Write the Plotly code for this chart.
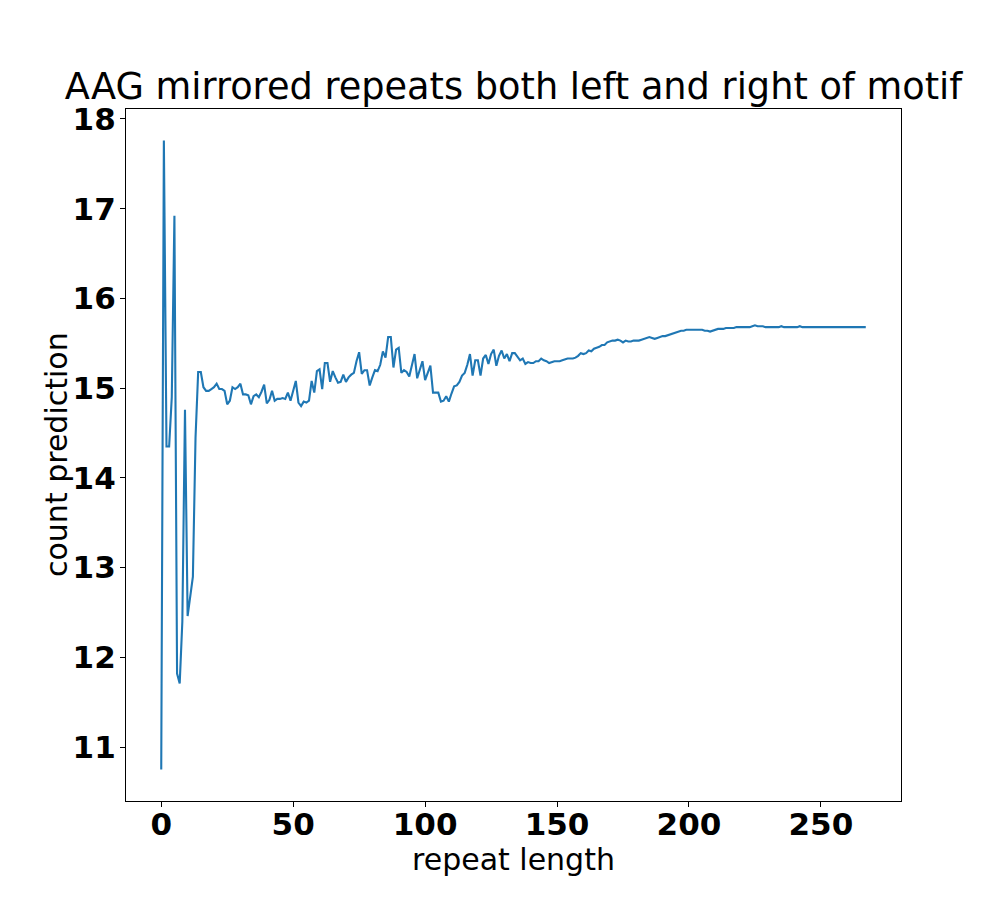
import plotly.graph_objects as go

# repeat length (x) and count prediction (y)
repeat_length = list(range(268))
count_prediction = [
    10.75, 17.76, 14.35, 14.35, 14.90, 16.92, 11.82, 11.71, 12.40, 14.76,
    12.46, 12.70, 12.90, 14.45, 15.18, 15.18, 15.01, 14.97, 14.97, 14.99,
    15.01, 15.05, 14.99, 14.99, 14.97, 14.82, 14.86, 15.01, 14.99, 15.01,
    15.05, 14.93, 14.93, 14.92, 14.82, 14.91, 14.93, 14.90, 14.96, 15.04,
    14.83, 14.87, 14.97, 14.86, 14.88, 14.88, 14.89, 14.88, 14.95, 14.86,
    14.96, 15.08, 14.84, 14.80, 14.85, 14.84, 14.86, 15.08, 14.95, 15.19,
    15.21, 14.99, 15.28, 15.28, 15.07, 15.19, 15.12, 15.06, 15.07, 15.15,
    15.07, 15.12, 15.15, 15.17, 15.30, 15.40, 15.16, 15.20, 15.20, 15.03,
    15.12, 15.20, 15.19, 15.26, 15.41, 15.34, 15.57, 15.57, 15.23, 15.43,
    15.45, 15.17, 15.20, 15.18, 15.13, 15.24, 15.38, 15.11, 15.22, 15.30,
    15.09, 15.18, 15.25, 14.95, 14.95, 14.95, 14.85, 14.86, 14.91, 14.85,
    14.94, 15.02, 15.03, 15.07, 15.14, 15.17, 15.26, 15.38, 15.14, 15.31,
    15.31, 15.14, 15.33, 15.37, 15.27, 15.38, 15.43, 15.25, 15.36, 15.42,
    15.33, 15.38, 15.30, 15.39, 15.39, 15.35, 15.31, 15.33, 15.27, 15.29,
    15.28, 15.28, 15.30, 15.30, 15.33, 15.31, 15.30, 15.28, 15.29, 15.30,
    15.30, 15.30, 15.31, 15.32, 15.33, 15.33, 15.33, 15.34, 15.36, 15.39,
    15.38, 15.39, 15.42, 15.41, 15.44, 15.45, 15.46, 15.48, 15.48, 15.51,
    15.52, 15.53, 15.53, 15.54, 15.53, 15.51, 15.53, 15.52, 15.52, 15.53,
    15.53, 15.53, 15.54, 15.55, 15.56, 15.57, 15.56, 15.55, 15.56, 15.57,
    15.58, 15.58, 15.59, 15.60, 15.61, 15.62, 15.63, 15.64, 15.64, 15.65,
    15.65, 15.65, 15.65, 15.65, 15.65, 15.65, 15.64, 15.64, 15.63, 15.64,
    15.65, 15.66, 15.66, 15.66, 15.67, 15.67, 15.67, 15.67, 15.68, 15.68,
    15.68, 15.68, 15.68, 15.68, 15.69, 15.70, 15.69, 15.69, 15.69, 15.68,
    15.68, 15.68, 15.68, 15.68, 15.68, 15.69, 15.68, 15.68, 15.68, 15.68,
    15.68, 15.68, 15.69, 15.68, 15.68, 15.68, 15.68, 15.68, 15.68, 15.68,
    15.68, 15.68, 15.68, 15.68, 15.68, 15.68, 15.68, 15.68, 15.68, 15.68,
    15.68, 15.68, 15.68, 15.68, 15.68, 15.68, 15.68, 15.68,
]
x_ticks = [0, 50, 100, 150, 200, 250]
y_ticks = [11, 12, 13, 14, 15, 16, 17, 18]

title_text = "AAG mirrored repeats both left and right of motif"
x_label = "repeat length"
y_label = "count prediction"

fig = go.Figure()
fig.add_trace(go.Scatter(
    x=repeat_length, y=count_prediction, mode="lines",
    line=dict(color="#1f77b4", width=2.1), showlegend=False,
))

xmin, xmax = min(repeat_length), max(repeat_length)
ymin, ymax = min(count_prediction), max(count_prediction)
xpad = (xmax - xmin) * 0.05
ypad = (ymax - ymin) * 0.05

tickfont = dict(family="DejaVu Sans", size=31, color="black", weight="bold")
labelfont = dict(family="DejaVu Sans", size=30, color="black")

# the page body adds ~7px offset; margins compensate so the plot box lands at 125..900 x 108..800
ML, MR, MT, MB = 118, 107, 101, 107
plot_w = 1000 - ML - MR
plot_h = 900 - MT - MB

fig.update_layout(
    width=1000, height=900,
    margin=dict(l=ML, r=MR, t=MT, b=MB, autoexpand=False),
    paper_bgcolor="white", plot_bgcolor="white",
    title=dict(text=title_text, x=0.5, xref="paper", xanchor="center",
               y=1 - 78 / 900, yref="container", yanchor="middle",
               automargin=False,
               font=dict(family="DejaVu Sans", size=36.7, color="black")),
    annotations=[
        dict(text=x_label, xref="paper", yref="paper", x=0.5,
             y=-58 / plot_h, xanchor="center", yanchor="middle",
             showarrow=False, font=labelfont),
        dict(text=y_label, xref="paper", yref="paper", x=-70 / plot_w,
             y=0.5, xanchor="center", yanchor="middle", textangle=-90,
             showarrow=False, font=labelfont),
    ],
)
fig.update_xaxes(
    range=[xmin - xpad, xmax + xpad], tickvals=x_ticks, automargin=False,
    showgrid=False, zeroline=False, showline=True, mirror=True,
    linecolor="black", linewidth=1.1, ticks="outside", ticklen=5,
    tickwidth=1.1, tickcolor="black", tickfont=tickfont,
    ticklabelstandoff=-9,
)
fig.update_yaxes(
    range=[ymin - ypad, ymax + ypad], tickvals=y_ticks, automargin=False,
    showgrid=False, zeroline=False, showline=True, mirror=True,
    linecolor="black", linewidth=1.1, ticks="outside", ticklen=5,
    tickwidth=1.1, tickcolor="black", tickfont=tickfont,
    ticklabelstandoff=-2,
)

fig.write_html("out.html")
